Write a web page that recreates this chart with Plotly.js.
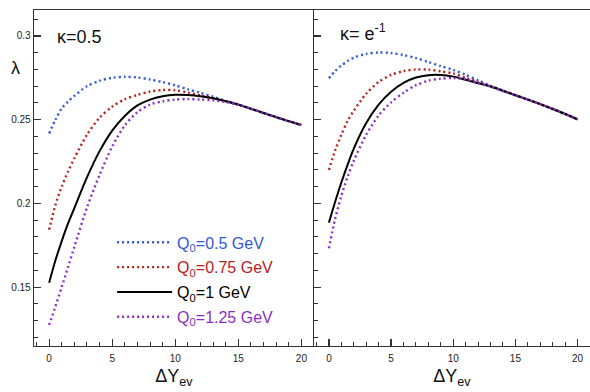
<!DOCTYPE html>
<html>
<head>
<meta charset="utf-8">
<script src="https://cdn.plot.ly/plotly-3.0.1.min.js"></script>
<style>html,body{margin:0;padding:0;background:#fff;}#chart{width:590px;height:392px;}</style>
</head>
<body>
<div id="chart"></div>
<script>
// Rapidity interval grid
const dY = [0,0.5,1,1.5,2,3,4,5,6,7,8,9,10,11,12,13,14,15,16,17,18,19,20];

// Left panel: kappa = 0.5
const k05_Q050 = [0.2418,0.2500,0.2567,0.2608,0.2642,0.2700,0.2733,0.2750,0.2756,0.2752,0.2740,0.2724,0.2705,0.2681,0.2660,0.2637,0.2612,0.2590,0.2565,0.2540,0.2515,0.2491,0.2468];
const k05_Q075 = [0.1843,0.1990,0.2100,0.2190,0.2270,0.2410,0.2512,0.2578,0.2622,0.2648,0.2668,0.2677,0.2676,0.2662,0.2645,0.2628,0.2610,0.2590,0.2565,0.2540,0.2515,0.2491,0.2468];
const k05_Q100 = [0.1526,0.1660,0.1775,0.1880,0.1972,0.2155,0.2312,0.2435,0.2522,0.2585,0.2620,0.2640,0.2649,0.2647,0.2640,0.2628,0.2610,0.2590,0.2565,0.2540,0.2515,0.2491,0.2468];
const k05_Q125 = [0.1274,0.1385,0.1500,0.1620,0.1740,0.1975,0.2170,0.2340,0.2465,0.2545,0.2590,0.2610,0.2620,0.2623,0.2620,0.2615,0.2605,0.2590,0.2565,0.2540,0.2515,0.2491,0.2468];

// Right panel: kappa = e^-1
const ke_Q050 = [0.2748,0.2790,0.2824,0.2850,0.2870,0.2893,0.2901,0.2898,0.2886,0.2868,0.2844,0.2820,0.2797,0.2768,0.2735,0.2702,0.2673,0.2646,0.2620,0.2593,0.2564,0.2534,0.2502];
const ke_Q075 = [0.2200,0.2316,0.2409,0.2492,0.2553,0.2655,0.2725,0.2767,0.2790,0.2800,0.2799,0.2789,0.2776,0.2750,0.2725,0.2700,0.2673,0.2646,0.2620,0.2593,0.2564,0.2534,0.2502];
const ke_Q100 = [0.1885,0.2010,0.2125,0.2230,0.2327,0.2480,0.2590,0.2667,0.2720,0.2752,0.2766,0.2767,0.2757,0.2738,0.2718,0.2698,0.2673,0.2646,0.2620,0.2593,0.2564,0.2534,0.2502];
const ke_Q125 = [0.1732,0.1908,0.2045,0.2158,0.2255,0.2410,0.2525,0.2603,0.2661,0.2706,0.2733,0.2745,0.2748,0.2740,0.2720,0.2698,0.2671,0.2646,0.2620,0.2593,0.2564,0.2534,0.2502];

const seriesNames = ['Q<sub>0</sub>=0.5 GeV','Q<sub>0</sub>=0.75 GeV','Q<sub>0</sub>=1 GeV','Q<sub>0</sub>=1.25 GeV'];
const colors = ['#3358d8','#b8201c','#000000','#8a2fc4'];
const dashes = ['2px,3px','2px,3px','solid','2px,3px'];
const widths = [2.4,2.4,2,2.4];

const left = [k05_Q050,k05_Q075,k05_Q100,k05_Q125];
const right = [ke_Q050,ke_Q075,ke_Q100,ke_Q125];

const traces = [];
left.forEach((ys,i)=>{
  traces.push({x:dY,y:ys,xaxis:'x',yaxis:'y',type:'scatter',mode:'lines',
    line:{color:colors[i],width:widths[i],dash:dashes[i],shape:'spline',smoothing:0.8},
    name:'<span style="color:'+colors[i]+'">'+seriesNames[i]+'</span>',
    legendgroup:'g'+i,showlegend:true});
});
right.forEach((ys,i)=>{
  traces.push({x:dY,y:ys,xaxis:'x2',yaxis:'y2',type:'scatter',mode:'lines',
    line:{color:colors[i],width:widths[i],dash:dashes[i],shape:'spline',smoothing:0.8},
    name:seriesNames[i],legendgroup:'g'+i,showlegend:false});
});

const axisCol = '#333333';
const xCommon = {range:[-1.2,21],tick0:0,dtick:5,ticks:'inside',ticklen:7,tickwidth:1.2,tickcolor:axisCol,
  minor:{dtick:1,ticks:'inside',ticklen:4,tickwidth:1,tickcolor:axisCol},
  showline:true,linecolor:axisCol,linewidth:1.3,mirror:true,showgrid:false,zeroline:false,
  tickfont:{size:10,color:'#222'},ticklabelstandoff:3,
  title:{text:'ΔY<sub>ev</sub>',font:{size:18,color:'#111'},standoff:6}};
const yCommon = {range:[0.115,0.3155],tick0:0,dtick:0.05,ticks:'inside',ticklen:7,tickwidth:1.2,tickcolor:axisCol,
  minor:{dtick:0.01,ticks:'inside',ticklen:4,tickwidth:1,tickcolor:axisCol},
  showline:true,linecolor:axisCol,linewidth:1.3,showgrid:false,zeroline:false,
  tickfont:{size:10,color:'#222'},domain:[1-345.7/392,1-10/392]};

const layout = {
  width:590,height:392,margin:{l:0,r:0,t:0,b:0},paper_bgcolor:'#fff',plot_bgcolor:'#fff',
  font:{family:'Liberation Sans, Arial, sans-serif',color:'#111'},
  xaxis:Object.assign({},xCommon,{domain:[34/590,314/590],anchor:'y'}),
  xaxis2:Object.assign({},xCommon,{domain:[314/590,1],anchor:'y2'}),
  yaxis:Object.assign({},yCommon,{anchor:'x'}),
  yaxis2:Object.assign({},yCommon,{anchor:'x2',showticklabels:false}),
  showlegend:true,
  legend:{x:0.19,y:0.425,xanchor:'left',yanchor:'top',bgcolor:'rgba(0,0,0,0)',
    font:{size:16},tracegroupgap:1,itemwidth:55},
  annotations:[
    {xref:'paper',yref:'paper',x:55/590,y:1-37/392,xanchor:'left',yanchor:'middle',showarrow:false,
     text:'κ=0.5',font:{size:18,color:'#111'}},
    {xref:'paper',yref:'paper',x:338/590,y:1-33/392,xanchor:'left',yanchor:'middle',showarrow:false,
     text:'κ= e<sup>-1</sup>',font:{size:18,color:'#111'}},
    {xref:'paper',yref:'paper',x:15/590,y:1-68/392,xanchor:'center',yanchor:'middle',showarrow:false,
     text:'λ',font:{size:18,color:'#111'}}
  ]
};

Plotly.newPlot('chart',traces,layout,{staticPlot:true,displayModeBar:false});
</script>
</body>
</html>
